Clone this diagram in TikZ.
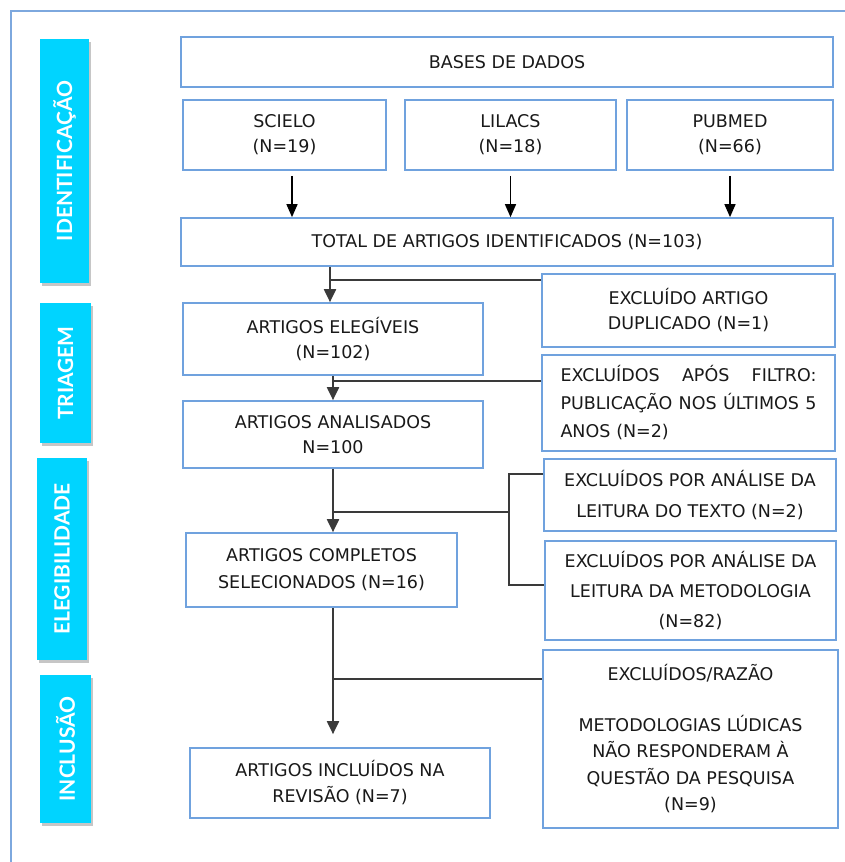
\documentclass[tikz,border=0pt]{standalone}
\usepackage{fontspec}
\setmainfont{DejaVu Sans}
\newfontfamily\stagefont{Lato}
\usetikzlibrary{arrows.meta,positioning,shadows,calc}
\definecolor{FrameBlue}{RGB}{125,168,222}
\definecolor{BoxBlue}{RGB}{112,162,222}
\definecolor{StageCyan}{RGB}{0,212,255}
\definecolor{LinkGray}{RGB}{58,58,58}
\tikzset{
  stage/.style={fill=StageCyan,rotate=90,inner sep=0pt,text=white,
    drop shadow={shadow xshift=2pt,shadow yshift=-3pt,opacity=0.45},
    font=\stagefont\bfseries\fontsize{21}{21}\selectfont},
  box/.style={draw=BoxBlue,line width=1.7pt,fill=white,align=center,
    inner sep=0pt,text=black!90,font=\fontsize{17.5}{25}\selectfont},
  link/.style={draw=LinkGray,line width=2pt},
  arrow/.style={link,-{Triangle[width=12pt,length=13pt]}},
  feed/.style={draw=black,line width=1.5pt,-{Triangle[width=11pt,length=13pt]},shorten <=5pt}
}
\begin{document}
\begin{tikzpicture}[x=1pt,y=-1pt]
  \useasboundingbox (0,0) rectangle (845,862);
  \draw[FrameBlue,line width=1.2pt] (11,880) -- (11,11) -- (860,11);

  % stages
  \node[stage,minimum width=244pt,minimum height=49pt] (sid) at (64.5,161) {IDENTIFICAÇÃO};
  \node[stage,minimum width=140pt,minimum height=51pt] (stri) at (65.5,373) {TRIAGEM};
  \node[stage,minimum width=202pt,minimum height=50pt] (sele) at (62,559) {ELEGIBILIDADE};
  \node[stage,minimum width=148pt,minimum height=51pt] (sinc) at (65.5,749) {INCLUSÃO};

  % identification
  \node[box,minimum width=652pt,minimum height=50pt] (bases) at (507,62) {BASES DE DADOS};
  \node[box,minimum width=203pt,minimum height=70pt] (scielo) at (284.5,135) {SCIELO\\(N=19)};
  \node[box,minimum width=211pt,minimum height=70pt] (lilacs) at (510.5,135) {LILACS\\(N=18)};
  \node[box,minimum width=206pt,minimum height=70pt] (pubmed) at (730,135) {PUBMED\\(N=66)};
  \node[box,minimum width=652pt,minimum height=48pt] (total) at (507,242) {TOTAL DE ARTIGOS IDENTIFICADOS (N=103)};

  % screening
  \node[box,minimum width=300pt,minimum height=72pt] (elegiveis) at (333,339) {ARTIGOS ELEGÍVEIS\\(N=102)};
  \node[box,minimum width=293pt,minimum height=73pt] (exdup) at (688.5,310.5) {EXCLUÍDO ARTIGO\\DUPLICADO (N=1)};
  \node[box,minimum width=300pt,minimum height=67pt] (analisados) at (333,434.5) {ARTIGOS ANALISADOS\\N=100};
  \node[box,minimum width=293pt,minimum height=96pt,text width=256pt,align=left,
    font=\fontsize{17.5}{28}\selectfont] (exfiltro) at (688.5,403)
    {\makebox[256pt][l]{EXCLUÍDOS\hfill APÓS\hfill FILTRO:}\\
     \makebox[256pt][l]{PUBLICAÇÃO\hfill NOS\hfill ÚLTIMOS\hfill 5}\\ANOS (N=2)};

  % eligibility
  \node[box,minimum width=292pt,minimum height=72pt,font=\fontsize{17.5}{31}\selectfont] (extexto) at (690,495) {EXCLUÍDOS POR ANÁLISE DA\\LEITURA DO TEXTO (N=2)};
  \node[box,minimum width=271pt,minimum height=74pt,font=\fontsize{17.5}{27}\selectfont] (completos) at (321.5,570) {ARTIGOS COMPLETOS\\SELECIONADOS (N=16)};
  \node[box,minimum width=291pt,minimum height=99pt,font=\fontsize{17.5}{30}\selectfont] (exmetod) at (690.5,590.5) {EXCLUÍDOS POR ANÁLISE DA\\LEITURA DA METODOLOGIA\\(N=82)};

  % inclusion
  \node[box,minimum width=295pt,minimum height=178pt,font=\fontsize{17.5}{26.5}\selectfont] (exrazao) at (690.5,739) {EXCLUÍDOS/RAZÃO\\[24pt]METODOLOGIAS LÚDICAS\\NÃO RESPONDERAM À\\QUESTÃO DA PESQUISA\\(N=9)};
  \node[box,minimum width=300pt,minimum height=70pt,font=\fontsize{17.5}{26}\selectfont] (incluidos) at (340,783) {ARTIGOS INCLUÍDOS NA\\REVISÃO (N=7)};

  % connectors
  \draw[feed] ([xshift=7.5pt]scielo.south) -- ([xshift=7.5pt]scielo.south |- total.north);
  \draw[feed] (lilacs.south) -- (lilacs.south |- total.north);
  \draw[feed] (pubmed.south) -- (pubmed.south |- total.north);
  \draw[arrow] ([xshift=-3pt]total.south -| elegiveis.north) -- ([xshift=-3pt]elegiveis.north);
  \draw[link] ([yshift=-7pt]exdup.north west) -- ([yshift=-7pt,xshift=-3pt]exdup.north west -| elegiveis.north);
  \draw[arrow] (elegiveis.south) -- (analisados.north);
  \draw[link] ([yshift=-27pt]exfiltro.north west) -- ([yshift=-27pt]exfiltro.north west -| elegiveis.south);
  \draw[arrow] (analisados.south) -- (analisados.south |- completos.north);
  \coordinate (brk) at (509,512);
  \draw[link] ([yshift=-16pt]extexto.north west) -| (brk) |- ([yshift=-45pt]exmetod.north west);
  \draw[link] (brk) -- (brk -| analisados.south);
  \draw[arrow,shorten >=13pt] (completos.south -| analisados.south) -- (analisados.south |- incluidos.north);
  \draw[link] ([yshift=-30pt]exrazao.north west) -- ([yshift=-30pt]exrazao.north west -| analisados.south);
\end{tikzpicture}
\end{document}
